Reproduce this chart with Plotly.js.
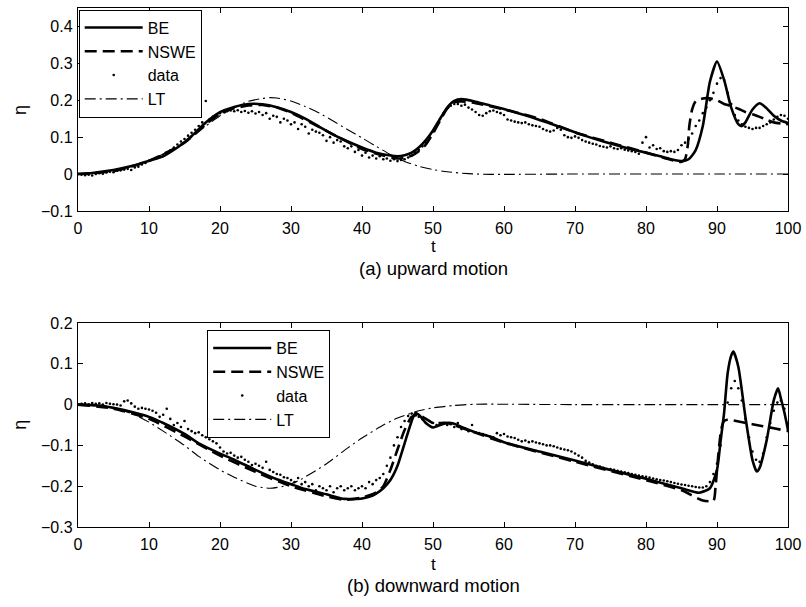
<!DOCTYPE html>
<html>
<head>
<meta charset="utf-8">
<script src="https://cdn.plot.ly/plotly-3.0.1.min.js"></script>
<style>html,body{margin:0;padding:0;background:#fff;}#chart{width:806px;height:607px;}</style>
</head>
<body>
<div id="chart"></div>
<script>
// ---------- (a) upward motion ----------
const tBE_a = [0,2,4,6,8,9,12,14,15,16,18,20,22,24,26,28,30,32,34,36,38,40,42,44,45,46,47,48,49,50,51,52,53,54,56,58,60,62,64,66,68,70,72,74,76,78,80,82,84,85,86,87,88,89,90,91,92,93,93.5,94,95,96,97,98,99,100];
const BE_a  = [0,0.003,0.008,0.015,0.024,0.03,0.048,0.072,0.086,0.103,0.14,0.168,0.182,0.19,0.189,0.181,0.168,0.15,0.128,0.106,0.088,0.072,0.058,0.05,0.048,0.051,0.058,0.072,0.092,0.118,0.15,0.18,0.198,0.203,0.196,0.186,0.176,0.165,0.153,0.14,0.127,0.113,0.1,0.088,0.077,0.067,0.058,0.048,0.038,0.035,0.04,0.065,0.13,0.25,0.305,0.255,0.18,0.135,0.13,0.14,0.175,0.192,0.178,0.158,0.145,0.138];

const tNS_a = [0,5,10,15,18,20,22,24,26,28,30,35,40,43,45,46,47,48,49,50,51,52,53,54,56,60,65,70,75,80,84,85,85.5,85.9,86.1,86.5,87,88,89,90,91,92,93,94,95,96,97,98,99,100];
const NS_a  = [0,0.008,0.036,0.085,0.135,0.163,0.178,0.186,0.187,0.18,0.166,0.117,0.068,0.05,0.042,0.044,0.05,0.062,0.08,0.11,0.145,0.178,0.195,0.197,0.192,0.175,0.15,0.113,0.085,0.058,0.036,0.033,0.04,0.08,0.13,0.175,0.197,0.205,0.205,0.2,0.19,0.184,0.177,0.168,0.162,0.155,0.147,0.14,0.137,0.135];

const tLT_a = [0,5,10,15,18,20,22,24,26,27,28,30,32,34,36,38,40,42,44,46,48,50,52,55,58,60,70,80,90,100];
const LT_a  = [0,0.008,0.036,0.085,0.13,0.158,0.18,0.197,0.205,0.207,0.206,0.198,0.183,0.165,0.143,0.12,0.098,0.075,0.053,0.034,0.021,0.012,0.006,0.001,-0.001,-0.001,0,0,0,0];

// measured data, sampled every 0.5 from t = 0 to 100
const data_a = [
 0,-0.002,-0.003,-0.002,-0.004,0.0,0.002,0.001,0.004,0.006,0.005,0.009,0.01,0.012,0.014,0.011,0.018,0.02,0.026,0.03,
 0.036,0.04,0.042,0.048,0.052,0.058,0.064,0.072,0.08,0.088,0.095,0.104,0.112,0.12,0.13,0.14,0.198,0.148,0.155,0.16,
 0.165,0.168,0.17,0.172,0.17,0.173,0.168,0.171,0.166,0.17,0.164,0.168,0.16,0.165,0.15,0.158,0.155,0.14,0.15,0.145,
 0.135,0.14,0.122,0.135,0.128,0.11,0.12,0.115,0.112,0.105,0.09,0.1,0.085,0.092,0.088,0.075,0.07,0.075,0.06,0.065,
 0.05,0.058,0.045,0.05,0.042,0.048,0.04,0.042,0.036,0.04,0.035,0.038,0.04,0.045,0.05,0.058,0.065,0.075,0.085,0.1,
 0.115,0.13,0.15,0.165,0.178,0.185,0.19,0.19,0.185,0.188,0.18,0.175,0.168,0.16,0.158,0.165,0.17,0.172,0.168,0.165,
 0.16,0.148,0.145,0.142,0.14,0.138,0.14,0.135,0.132,0.13,0.128,0.122,0.118,0.115,0.118,0.125,0.12,0.105,0.1,0.098,
 0.102,0.098,0.092,0.088,0.085,0.082,0.08,0.076,0.074,0.072,0.075,0.07,0.068,0.07,0.066,0.064,0.062,0.06,0.055,0.085,
 0.1,0.072,0.078,0.068,0.07,0.062,0.06,0.062,0.06,0.065,0.078,0.085,0.095,0.11,0.13,0.145,0.165,0.18,0.2,0.22,
 0.245,0.26,0.255,0.22,0.19,0.16,0.145,0.135,0.128,0.125,0.122,0.125,0.125,0.13,0.135,0.14,0.148,0.155,0.16,0.158,0.15
];

// ---------- (b) downward motion ----------
const tBE_b = [0,3,5,8,10,12,15,17,20,22,25,28,30,32,35,37.5,40,41,42,43,44,45,46,47,47.5,48,49,50,51,52,53,54,56,58,60,65,70,75,80,85,87.5,89,90,90.5,91,91.5,92,92.3,93,94,95,95.6,96,97,98,98.6,99,99.5,100];
const BE_b  = [0,-0.002,-0.008,-0.02,-0.03,-0.045,-0.072,-0.095,-0.12,-0.135,-0.16,-0.183,-0.195,-0.207,-0.22,-0.231,-0.23,-0.226,-0.218,-0.205,-0.185,-0.15,-0.095,-0.04,-0.021,-0.025,-0.045,-0.056,-0.05,-0.045,-0.047,-0.055,-0.068,-0.078,-0.092,-0.115,-0.137,-0.16,-0.182,-0.205,-0.216,-0.205,-0.16,-0.09,-0.02,0.077,0.12,0.13,0.093,-0.03,-0.136,-0.164,-0.155,-0.087,0.011,0.04,0.015,-0.02,-0.062];

const tNS_b = [0,5,10,15,20,25,30,35,37.5,40,42,43,44,45,46,47,48,50,52,55,60,70,80,85,88,89.5,89.8,90.2,90.6,91,91.5,92,95,98,100];
const NS_b  = [0,-0.01,-0.035,-0.078,-0.125,-0.165,-0.2,-0.225,-0.233,-0.228,-0.215,-0.2,-0.16,-0.11,-0.062,-0.03,-0.025,-0.045,-0.045,-0.063,-0.093,-0.14,-0.185,-0.21,-0.235,-0.236,-0.2,-0.12,-0.06,-0.04,-0.037,-0.038,-0.048,-0.058,-0.065];

const tLT_b = [0,5,8,10,12,15,17,20,22,25,27,29,31,33,35,38,40,43,45,48,50,53,56,60,70,80,90,100];
const LT_b  = [0,-0.008,-0.025,-0.043,-0.065,-0.1,-0.127,-0.16,-0.178,-0.2,-0.205,-0.2,-0.187,-0.167,-0.145,-0.106,-0.082,-0.05,-0.033,-0.015,-0.008,-0.002,0.001,0.001,0,0,0,0];

const data_b = [
 0.0,0.002,0.003,0.001,0.004,0.002,0.003,0.0,0.004,0.002,0.001,0.0,-0.002,0.008,0.01,0.003,-0.005,-0.01,-0.008,-0.01,
 -0.012,-0.015,-0.02,-0.03,-0.025,-0.01,-0.035,-0.05,-0.045,-0.055,-0.04,-0.06,-0.065,-0.07,-0.068,-0.075,-0.08,-0.085,-0.09,-0.095,
 -0.105,-0.115,-0.12,-0.118,-0.125,-0.13,-0.128,-0.135,-0.14,-0.148,-0.145,-0.15,-0.155,-0.14,-0.16,-0.165,-0.17,-0.172,-0.178,-0.18,
 -0.185,-0.19,-0.18,-0.195,-0.19,-0.2,-0.195,-0.21,-0.2,-0.205,-0.21,-0.2,-0.215,-0.205,-0.2,-0.21,-0.205,-0.2,-0.21,-0.205,
 -0.2,-0.205,-0.19,-0.195,-0.185,-0.18,-0.17,-0.15,-0.13,-0.1,-0.08,-0.055,-0.04,-0.028,-0.022,-0.025,-0.03,-0.035,-0.045,-0.04,
 -0.045,-0.05,-0.048,-0.045,-0.05,-0.048,-0.055,-0.045,-0.06,-0.058,-0.065,-0.05,-0.068,-0.07,-0.072,-0.075,-0.078,-0.08,-0.07,-0.075,
 -0.072,-0.078,-0.08,-0.082,-0.086,-0.09,-0.088,-0.092,-0.09,-0.093,-0.095,-0.097,-0.1,-0.1,-0.102,-0.105,-0.108,-0.11,-0.112,-0.115,
 -0.12,-0.125,-0.13,-0.138,-0.142,-0.146,-0.15,-0.152,-0.155,-0.158,-0.158,-0.16,-0.162,-0.164,-0.166,-0.168,-0.17,-0.172,-0.174,-0.176,
 -0.177,-0.179,-0.181,-0.183,-0.185,-0.186,-0.188,-0.19,-0.192,-0.194,-0.196,-0.197,-0.199,-0.2,-0.202,-0.203,-0.203,-0.2,-0.19,-0.17,
 -0.145,-0.1,-0.04,0.005,0.04,0.058,0.04,0.01,-0.035,-0.08,-0.115,-0.135,-0.14,-0.12,-0.08,-0.045,-0.015,0.005,0.01,-0.01,-0.045
];

const xTicks = [0,10,20,30,40,50,60,70,80,90,100];
const yTicks_a = [-0.1,0,0.1,0.2,0.3,0.4];
const yTicks_b = [-0.3,-0.2,-0.1,0,0.1,0.2];
const seriesNames = ['BE','NSWE','data','LT'];

// sampling grid of the measured series (every 0.5 of t)
const tData = data_a.map((_, i) => i * 0.5);

const FONT = 'Liberation Sans, Arial, Helvetica, sans-serif';
const beLine = {color:'#000', width:2.6, shape:'spline', smoothing:0.6};
const nsLine = {color:'#000', width:2.6, dash:'12px,6px', shape:'spline', smoothing:0.6};
const ltLine = {color:'#000', width:1.1, dash:'11px,4px,2px,4px', shape:'spline', smoothing:0.6};
const dotMarker = {color:'#000', size:2.6};

function set(xa, ya, lg, tb, b, nsT, ns, dat, tl, lt) {
  return [
    {x:tb, y:b, xaxis:xa, yaxis:ya, legend:lg, mode:'lines', name:seriesNames[0], line:beLine},
    {x:nsT, y:ns, xaxis:xa, yaxis:ya, legend:lg, mode:'lines', name:seriesNames[1], line:nsLine},
    {x:tData, y:dat, xaxis:xa, yaxis:ya, legend:lg, mode:'markers', name:seriesNames[2], marker:dotMarker},
    {x:tl, y:lt, xaxis:xa, yaxis:ya, legend:lg, mode:'lines', name:seriesNames[3], line:ltLine}
  ];
}

const traces = [
  ...set('x','y','legend',tBE_a,BE_a,tNS_a,NS_a,data_a,tLT_a,LT_a),
  ...set('x2','y2','legend2',tBE_b,BE_b,tNS_b,NS_b,data_b,tLT_b,LT_b)
];

function xax(anchor) {
  return {anchor:anchor, domain:[0,1], range:[0,100], tickvals:xTicks, ticks:'inside', ticklen:5,
    tickcolor:'#000', showline:true, linecolor:'#000', linewidth:1.2, mirror:'ticks', showgrid:false,
    zeroline:false, tickfont:{family:FONT, size:16, color:'#000'}, ticklabelstandoff:3};
}
function yax(anchor, dom, rng, tv) {
  return {anchor:anchor, domain:dom, range:rng, tickvals:tv, ticks:'inside', ticklen:5,
    tickcolor:'#000', showline:true, linecolor:'#000', linewidth:1.2, mirror:'ticks', showgrid:false,
    zeroline:false, tickfont:{family:FONT, size:16, color:'#000'}, ticklabelstandoff:1};
}

function legendBox(x, y) {
  return {x:x, y:y, bgcolor:'#fff', bordercolor:'#000', borderwidth:1, xanchor:'left', yanchor:'top',
    font:{family:FONT, size:16, color:'#000'}, itemwidth:58, tracegroupgap:0};
}

const layout = {
  width:806, height:607,
  margin:{l:78, r:18, t:8, b:80},
  paper_bgcolor:'#fff', plot_bgcolor:'#fff',
  font:{family:FONT, color:'#000'},
  showlegend:true,
  xaxis: xax('y'),
  yaxis: yax('x', [0.609,1], [-0.1,0.45], yTicks_a),
  xaxis2: xax('y2'),
  yaxis2: yax('x2', [0,0.393], [-0.3,0.2], yTicks_b),
  legend: legendBox(0.001, 0.997),
  legend2: legendBox(0.182, 0.3795),
  annotations: [
    {text:'η', xref:'paper', yref:'paper', x:-0.082, y:0.803, xanchor:'center', yanchor:'middle', showarrow:false, textangle:-90, font:{family:FONT, size:18}},
    {text:'η', xref:'paper', yref:'paper', x:-0.082, y:0.1965, xanchor:'center', yanchor:'middle', showarrow:false, textangle:-90, font:{family:FONT, size:18}},
    {text:'t', xref:'paper', yref:'paper', x:0.5, y:0.540, xanchor:'center', yanchor:'middle', showarrow:false, font:{family:FONT, size:17}},
    {text:'(a) upward motion', xref:'paper', yref:'paper', x:0.5, y:0.499, xanchor:'center', yanchor:'middle', showarrow:false, font:{family:FONT, size:18.5}},
    {text:'t', xref:'paper', yref:'paper', x:0.5, y:-0.0715, xanchor:'center', yanchor:'middle', showarrow:false, font:{family:FONT, size:17}},
    {text:'(b) downward motion', xref:'paper', yref:'paper', x:0.5, y:-0.1118, xanchor:'center', yanchor:'middle', showarrow:false, font:{family:FONT, size:18.5}}
  ]
};

Plotly.newPlot('chart', traces, layout, {staticPlot:true, displayModeBar:false});
</script>
</body>
</html>
